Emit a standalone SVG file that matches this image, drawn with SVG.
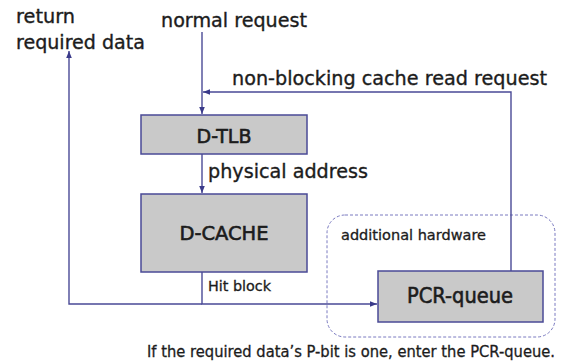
<svg xmlns="http://www.w3.org/2000/svg" width="565" height="362" viewBox="0 0 565 362">
<defs>
<style>
text{font-family:"DejaVu Sans","Verdana",sans-serif;fill:#1c1c1c;stroke:#1c1c1c;stroke-width:0.35}
.big{font-size:19px}
.lbl{font-size:19px;stroke-width:0.6}
.small{font-size:14px;stroke-width:0.3}
.box{fill:#c9c9c9;stroke:#4a4a96;stroke-width:1.5}
.wire{fill:none;stroke:#4a4a96;stroke-width:1.4}
.dash{fill:none;stroke:#7a7ac0;stroke-width:1;stroke-dasharray:3 2}
</style>
<marker id="arr" viewBox="0 0 10 10" refX="10" refY="5" markerWidth="7" markerHeight="7" orient="auto" markerUnits="userSpaceOnUse">
<path d="M0,1 L10,5 L0,9 z" fill="#3a3a8a"/>
</marker>
</defs>
<rect width="565" height="362" fill="#ffffff"/>
<g id="additional-hardware">
<rect class="dash" x="327" y="215" width="228" height="122" rx="18" ry="18"/>
<text class="small" x="341" y="240" textLength="145" lengthAdjust="spacingAndGlyphs">additional hardware</text>
</g>
<g id="connectors">
<path class="wire" d="M202,32 V114" marker-end="url(#arr)"/>
<path class="wire" d="M511,271 V92 H203" marker-end="url(#arr)"/>
<path class="wire" d="M202,154 V193" marker-end="url(#arr)"/>
<path class="wire" d="M202,272 V304 H377" marker-end="url(#arr)"/>
<path class="wire" d="M202,304 H69 V51" marker-end="url(#arr)"/>
</g>
<g id="labels">
<text class="big" x="16" y="23" textLength="59" lengthAdjust="spacingAndGlyphs">return</text>
<text class="big" x="16" y="49" textLength="129" lengthAdjust="spacingAndGlyphs">required data</text>
<text class="big" x="161" y="27" textLength="146" lengthAdjust="spacingAndGlyphs">normal request</text>
<text class="big" x="232" y="85" textLength="315" lengthAdjust="spacingAndGlyphs">non-blocking cache read request</text>
<text class="big" x="208" y="178" textLength="160" lengthAdjust="spacingAndGlyphs">physical address</text>
<text class="small" x="208" y="291" textLength="63" lengthAdjust="spacingAndGlyphs">Hit block</text>
<text class="small" x="147" y="357" style="font-size:15px" textLength="408" lengthAdjust="spacingAndGlyphs">If the required data’s P-bit is one, enter the PCR-queue.</text>
</g>
<g id="d-tlb">
<rect class="box" x="141" y="115" width="166" height="39"/>
<text class="lbl" x="224" y="143" text-anchor="middle">D-TLB</text>
</g>
<g id="d-cache">
<rect class="box" x="141" y="194" width="166" height="78"/>
<text class="lbl" x="224" y="240" text-anchor="middle" textLength="89" lengthAdjust="spacingAndGlyphs">D-CACHE</text>
</g>
<g id="pcr-queue">
<rect class="box" x="378" y="271" width="165" height="51"/>
<text class="lbl" x="460" y="303" text-anchor="middle" style="font-size:21px" textLength="106" lengthAdjust="spacingAndGlyphs">PCR-queue</text>
</g>
</svg>
